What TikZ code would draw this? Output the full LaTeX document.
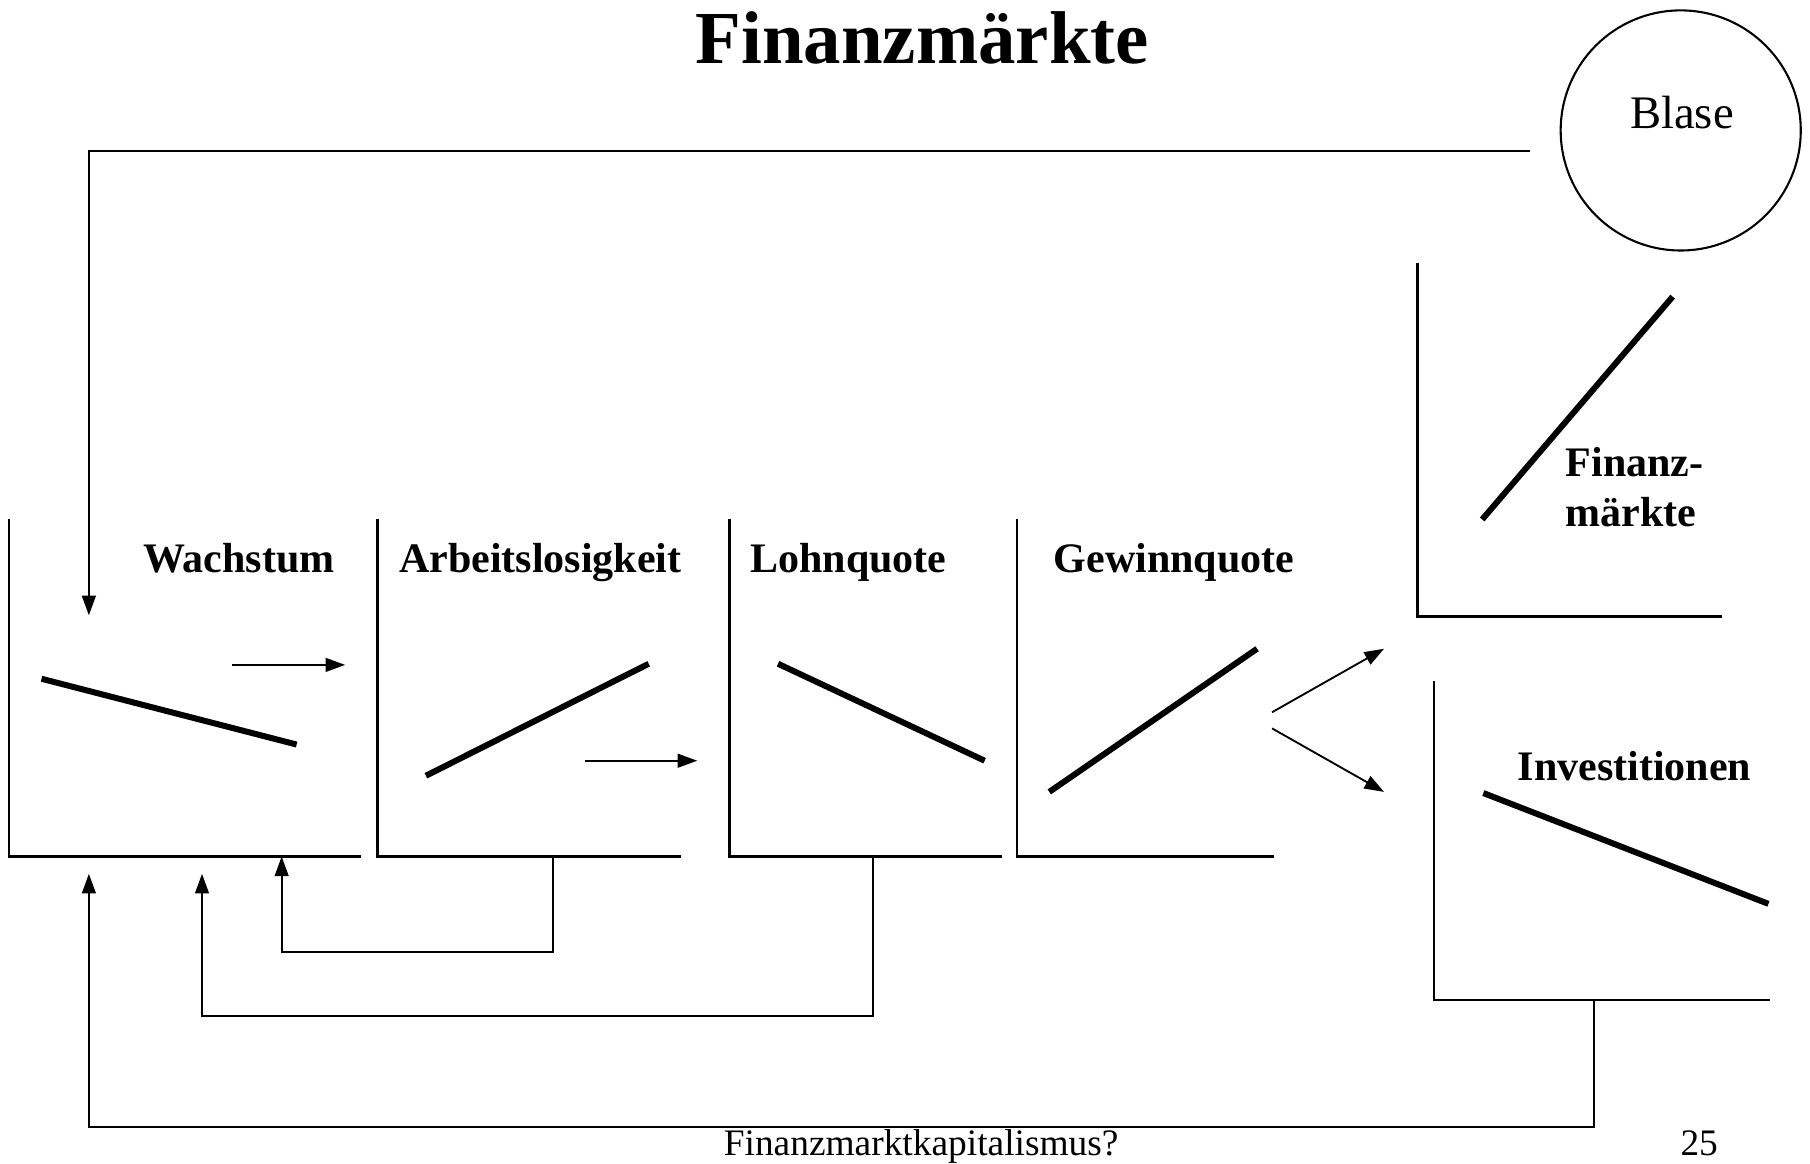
\documentclass[tikz,border=0pt]{standalone}
\usepackage{fontspec}
\setmainfont{Liberation Serif}
\usetikzlibrary{arrows.meta}
\begin{document}
\begin{tikzpicture}[x=0.5pt,y=-0.5pt,
  axis/.style={line width=1pt},
  curve/.style={line width=2.6pt},
  arr/.style={line width=0.8pt,-{Triangle[length=8.5pt,width=6pt]}},
  lbl/.style={font=\fontsize{18.2}{20}\selectfont\bfseries,anchor=base,inner sep=0pt},
]
\useasboundingbox (0,0) rectangle (1568,1007.5);
% title
\node[anchor=base,inner sep=0pt,font=\fontsize{32.4}{36}\selectfont\bfseries] (title) at (799,55) {Finanzmärkte};
% bubble
\node[draw,circle,line width=0.9pt,minimum size=208*0.5pt,inner sep=0pt] (blase) at (1456,113) {};
\node[anchor=base,inner sep=0pt,font=\fontsize{20.2}{22}\selectfont] (blasetxt) at (1457,111) {Blase};

% boxes (axes)
\coordinate (wT) at (8,450); \coordinate (wO) at (8,742); \coordinate (wR) at (313,742);
\coordinate (aT) at (327,450); \coordinate (aO) at (327,742); \coordinate (aR) at (590,742);
\coordinate (lT) at (632,450); \coordinate (lO) at (632,742); \coordinate (lR) at (868,742);
\coordinate (gT) at (881,450); \coordinate (gO) at (881,742); \coordinate (gR) at (1104,742);
\coordinate (fT) at (1228,228); \coordinate (fO) at (1228,534); \coordinate (fR) at (1492,534);
\coordinate (iT) at (1242,590); \coordinate (iO) at (1242,866); \coordinate (iR) at (1533,866);
\draw[axis] (wT) -- (wO) -- (wR);
\draw[axis] (aT) -- (aO) -- (aR);
\draw[axis] (lT) -- (lO) -- (lR);
\draw[axis] (gT) -- (gO) -- (gR);
\draw[axis] (fT) -- (fO) -- (fR);
\draw[axis] (iT) -- (iO) -- (iR);

% labels
\node[lbl] (wlbl) at (207,496) {Wachstum};
\node[lbl] (albl) at (468,496) {Arbeitslosigkeit};
\node[lbl] (llbl) at (735,496) {Lohnquote};
\node[lbl] (glbl) at (1017,496) {Gewinnquote};
\node[lbl,anchor=base west] (flbl1) at (1356,413) {Finanz-};
\node[lbl,anchor=base west] (flbl2) at (1356,456) {märkte};
\node[lbl] (ilbl) at (1416,676) {Investitionen};

% curves
\coordinate (w1) at (36,588); \coordinate (w2) at (257,645);
\coordinate (a1) at (369,672); \coordinate (a2) at (562,575);
\coordinate (l1) at (674,575); \coordinate (l2) at (853,659);
\coordinate (g1) at (909,686); \coordinate (g2) at (1089,562);
\coordinate (f1) at (1284,450); \coordinate (f2) at (1449,257);
\coordinate (i1) at (1285,687); \coordinate (i2) at (1532,783);
\draw[curve] (w1) -- (w2);
\draw[curve] (a1) -- (a2);
\draw[curve] (l1) -- (l2);
\draw[curve] (g1) -- (g2);
\draw[curve] (f1) -- (f2);
\draw[curve] (i1) -- (i2);

% forward arrows
\coordinate (fa1s) at (201,576); \coordinate (fa1e) at (299,576);
\coordinate (fa2s) at (507,659); \coordinate (fa2e) at (604,659);
\coordinate (fa3s) at (1102,617); \coordinate (fa3e) at (1199,562);
\coordinate (fa4s) at (1102,631); \coordinate (fa4e) at (1199,686);
\draw[arr] (fa1s) -- (fa1e);
\draw[arr] (fa2s) -- (fa2e);
\draw[arr] (fa3s) -- (fa3e);
\draw[arr] (fa4s) -- (fa4e);

% feedback: bubble -> Wachstum
\coordinate (b0) at (1325,131); \coordinate (b1) at (77,131); \coordinate (b2) at (77,533);
\draw[arr] (b0) -- (b1) -- (b2);
% Arbeitslosigkeit -> Wachstum
\coordinate (c0) at (479,742); \coordinate (c1) at (479,825); \coordinate (c2) at (244,825); \coordinate (c3) at (244,742);
\draw[arr] (c0) -- (c1) -- (c2) -- (c3);
% Lohnquote -> Wachstum
\coordinate (d0) at (756,742); \coordinate (d1) at (756,880); \coordinate (d2) at (175,880); \coordinate (d3) at (175,757);
\draw[arr] (d0) -- (d1) -- (d2) -- (d3);
% Investitionen -> Wachstum
\coordinate (e0) at (1381,866); \coordinate (e1) at (1381,976); \coordinate (e2) at (77,976); \coordinate (e3) at (77,757);
\draw[arr] (e0) -- (e1) -- (e2) -- (e3);

% footer
\node[anchor=base,inner sep=0pt,font=\fontsize{16.2}{18}\selectfont] (footer) at (798,1001) {Finanzmarktkapitalismus?};
\node[anchor=base,inner sep=0pt,font=\fontsize{16.2}{18}\selectfont] (pagenum) at (1472,1001) {25};
\end{tikzpicture}
\end{document}
